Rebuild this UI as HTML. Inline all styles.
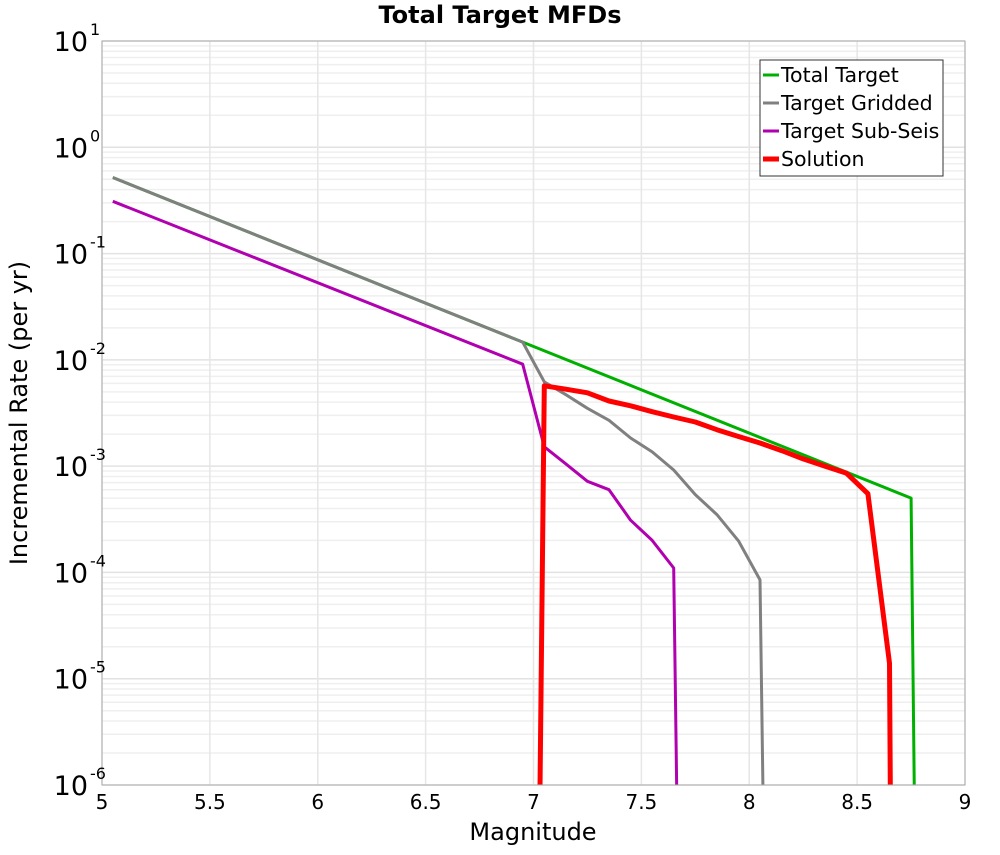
<!DOCTYPE html>
<html><head><meta charset="utf-8"><style>
body{margin:0;background:#fff;}
svg text{font-family:"DejaVu Sans","Liberation Sans",sans-serif;}
</style></head><body>
<svg id="chart" width="1000" height="850" xmlns="http://www.w3.org/2000/svg">
<text x="500" y="23" text-anchor="middle" font-size="24" font-weight="bold">Total Target MFDs</text>
<g id="grid"></g>
<g id="series"></g>
<rect x="102" y="41" width="863" height="744" fill="none" stroke="#aaa" stroke-width="1"/>
<g id="axes"></g>
<text x="533" y="840" text-anchor="middle" font-size="24">Magnitude</text>
<text transform="translate(27,413) rotate(-90)" text-anchor="middle" font-size="24">Incremental Rate (per yr)</text>
<g>
<rect x="760" y="60" width="183" height="116" fill="#fff" stroke="#333" stroke-width="1"/>
<g><line x1="763" y1="75" x2="779" y2="75" stroke="#00b000" stroke-width="3"/><text x="781" y="82" font-size="20.5">Total Target</text></g>
<g><line x1="763" y1="103" x2="779" y2="103" stroke="#808080" stroke-width="3"/><text x="781" y="110" font-size="20.5">Target Gridded</text></g>
<g><line x1="763" y1="131" x2="779" y2="131" stroke="#b000b0" stroke-width="3"/><text x="781" y="138" font-size="20.5">Target Sub-Seis</text></g>
<g><line x1="763" y1="159" x2="779" y2="159" stroke="#ff0000" stroke-width="5"/><text x="781" y="166" font-size="20.5">Solution</text></g>
</g>
</svg>
<script>
const xTicks=[5,5.5,6,6.5,7,7.5,8,8.5,9];
const xTickLabels=["5","5.5","6","6.5","7","7.5","8","8.5","9"];
const yDecades=[1,0,-1,-2,-3,-4,-5,-6];
const totalMags=[5.05,6.95,8.75,8.77];
const totalRates=[0.52,0.0147,5.0e-4,1e-7];
const griddedMags=[5.05,6.95,7.05,7.15,7.25,7.35,7.45,7.55,7.65,7.75,7.85,7.95,8.05,8.07];
const griddedRates=[0.52,0.0147,6.2e-3,4.7e-3,3.5e-3,2.7e-3,1.84e-3,1.36e-3,9.2e-4,5.4e-4,3.5e-4,1.98e-4,8.5e-5,1e-7];
const subSeisMags=[5.05,6.95,7.05,7.15,7.25,7.35,7.45,7.55,7.65,7.67];
const subSeisRates=[0.31,9.1e-3,1.52e-3,1.05e-3,7.2e-4,6.0e-4,3.1e-4,2.0e-4,1.1e-4,1e-7];
const solutionMags=[7.025,7.05,7.15,7.25,7.35,7.45,7.55,7.65,7.75,7.85,7.95,8.05,8.15,8.25,8.35,8.45,8.55,8.65,8.657];
const solutionRates=[1e-7,5.7e-3,5.3e-3,4.9e-3,4.1e-3,3.7e-3,3.25e-3,2.9e-3,2.6e-3,2.2e-3,1.9e-3,1.65e-3,1.4e-3,1.17e-3,1.0e-3,8.6e-4,5.5e-4,1.4e-5,1e-7];

const NS="http://www.w3.org/2000/svg";
const X0=102,X1=965,Y0=41,Y1=785;
function xs(m){return X0+(m-5)/4*(X1-X0);}
function ys(v){return Y0+(1-Math.log10(v))/7*(Y1-Y0);}
function mk(tag,attrs,parent){const e=document.createElementNS(NS,tag);for(const k in attrs)e.setAttribute(k,attrs[k]);parent.appendChild(e);return e;}

const grid=document.getElementById('grid');
const axes=document.getElementById('axes');
for(let d=-6;d<1;d++){for(let k=2;k<=9;k++){const y=ys(k*Math.pow(10,d));
const l=mk('line',{x1:X0,x2:X1,y1:y,y2:y,stroke:'#efefef','stroke-width':1.5},grid);

}}
yDecades.forEach(d=>{const y=ys(Math.pow(10,d));
const l=mk('line',{x1:X0,x2:X1,y1:y,y2:y,stroke:'#e2e2e2','stroke-width':1.5},grid);


const t=mk('text',{x:88,y:y+10,'text-anchor':'end','font-size':27},axes);


t.textContent='10';
const s=mk('text',{x:90,y:y-6,'font-size':16},axes);


s.textContent=String(d);});
xTicks.forEach((m,i)=>{const x=xs(m);
const l=mk('line',{x1:x,x2:x,y1:Y0,y2:Y1,stroke:'#e6e6e6','stroke-width':1.5},grid);


const t=mk('text',{x:x,y:809,'text-anchor':'middle','font-size':20},axes);


t.textContent=xTickLabels[i];});

const ser=document.getElementById('series');
const clip=mk('clipPath',{id:'pc'},ser);mk('rect',{x:X0,y:Y0,width:X1-X0,height:Y1-Y0},clip);
function line(ms,rs,color,w,name){const p=ms.map((m,i)=>xs(m).toFixed(1)+','+ys(rs[i]).toFixed(1)).join(' ');
const pl=mk('polyline',{points:p,fill:'none',stroke:color,'stroke-width':w,'stroke-linejoin':'round','clip-path':'url(#pc)'},ser);

}
line(totalMags,totalRates,'#00b000',3,'total-target-line');
line(griddedMags,griddedRates,'#808080',3,'target-gridded-line');
line(subSeisMags,subSeisRates,'#b000b0',3,'target-sub-seis-line');
line(solutionMags,solutionRates,'#ff0000',5,'solution-line');
</script>
</body></html>
